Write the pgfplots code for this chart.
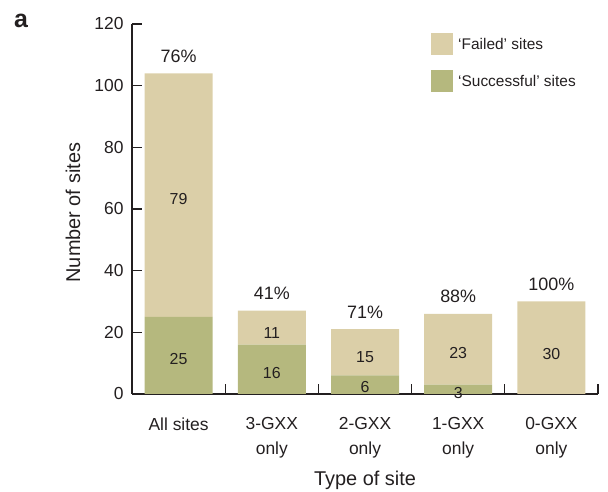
\documentclass[border=0pt]{standalone}
\usepackage{fontspec}
\setmainfont{Liberation Sans}
\usepackage{pgfplots}
\pgfplotsset{compat=1.18}
\definecolor{failc}{RGB}{219,207,168}
\definecolor{succc}{RGB}{181,184,126}
\definecolor{ink}{RGB}{35,31,32}
\tikzset{vlab/.style={font=\fontsize{16}{19}\selectfont, text=ink, anchor=center, inner sep=0pt},
         plab/.style={font=\fontsize{18}{21}\selectfont, text=ink, anchor=base, inner sep=0pt, yshift=11bp}}
\begin{document}
\begin{tikzpicture}[x=1bp,y=1bp]
\path[use as bounding box] (0,0) rectangle (608,492);
\node[font=\fontsize{25}{28}\selectfont\bfseries, text=ink, anchor=base west, inner sep=0pt] at (14,464) {a};
\begin{axis}[
  at={(132bp,98bp)}, anchor=south west,
  scale only axis, width=466bp, height=370bp,
  xmin=-0.5, xmax=4.5, ymin=0, ymax=120,
  ybar stacked, bar width=68bp,
  axis x line=bottom, axis y line=left,
  axis line style={-, line width=1.2bp, draw=ink},
  tick style={line width=1.2bp, draw=ink},
  tick align=inside, major tick length=10bp,
  ytick={0,20,...,120},
  xtick={-0.5,0.5,...,4.5},
  x tick label as interval,
  xticklabels={All sites,{3-GXX\\only},{2-GXX\\only},{1-GXX\\only},{0-GXX\\only}},
  xticklabel style={align=center, font=\fontsize{17.5}{25}\selectfont, text=ink, yshift=-20bp},
  yticklabel style={font=\fontsize{17.5}{20}\selectfont, text=ink, xshift=-5bp},
  /pgf/number format/assume math mode=true,
  xlabel={Type of site}, ylabel={Number of sites},
  xlabel style={font=\fontsize{20}{24}\selectfont, text=ink, at={(axis description cs:0.5,0)}, anchor=base, yshift=-92bp},
  ylabel style={font=\fontsize{20}{24}\selectfont, text=ink, at={(axis description cs:0,0.49)}, anchor=center, yshift=59bp},
  reverse legend,
  legend style={at={(axis description cs:0.6416,0.9757)}, anchor=north west, draw=none, fill=none,
    font=\fontsize{15.5}{18}\selectfont, text=ink, row sep=15bp, inner sep=0pt,
    cells={anchor=west}, nodes={inner xsep=5bp}},
  legend image code/.code={\fill[#1] (0bp,-11bp) rectangle (22bp,11bp);},
]
\addplot[fill=succc, draw=none] coordinates {(0,25) (1,16) (2,6) (3,3) (4,0)};
\addlegendentry{‘Successful’ sites}
\addplot[fill=failc, draw=none] coordinates {(0,79) (1,11) (2,15) (3,23) (4,30)};
\addlegendentry{‘Failed’ sites}
\coordinate (v1) at (axis cs:0,11.5);
\coordinate (v2) at (axis cs:0,63.3);
\coordinate (v3) at (axis cs:1,6.8);
\coordinate (v4) at (axis cs:1,19.8);
\coordinate (v5) at (axis cs:2,2.3);
\coordinate (v6) at (axis cs:2,12);
\coordinate (v7) at (axis cs:3,0.3);
\coordinate (v8) at (axis cs:3,13.3);
\coordinate (v9) at (axis cs:4,13);
\coordinate (p1) at (axis cs:0,104);
\coordinate (p2) at (axis cs:1,27);
\coordinate (p3) at (axis cs:2,21);
\coordinate (p4) at (axis cs:3,26);
\coordinate (p5) at (axis cs:4,30);
\end{axis}
\node[vlab] at (v1) {25};
\node[vlab] at (v2) {79};
\node[vlab] at (v3) {16};
\node[vlab] at (v4) {11};
\node[vlab] at (v5) {6};
\node[vlab] at (v6) {15};
\node[vlab] at (v7) {3};
\node[vlab] at (v8) {23};
\node[vlab] at (v9) {30};
\node[plab] at (p1) {76\%};
\node[plab] at (p2) {41\%};
\node[plab] at (p3) {71\%};
\node[plab] at (p4) {88\%};
\node[plab] at (p5) {100\%};
\end{tikzpicture}
\end{document}
